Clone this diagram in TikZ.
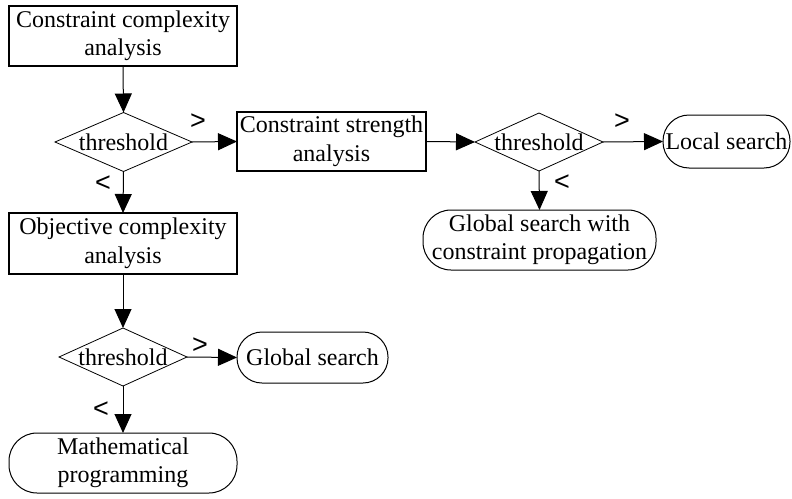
\documentclass[tikz,border=0pt]{standalone}
\usepackage{fontspec}
\setmainfont{Liberation Serif}
\newfontfamily\labfont{Liberation Sans}
\usetikzlibrary{shapes.geometric,arrows.meta}
\tikzset{
  txt/.style={font=\fontsize{24}{28.5}\selectfont, align=center, inner sep=0pt, outer sep=0pt},
  procbox/.style={txt, draw, line width=1.6pt, rectangle, minimum width=228pt, minimum height=60pt},
  decide/.style={txt, draw, line width=0.8pt, diamond, minimum height=59pt},
  term/.style={txt, draw, line width=1pt, rectangle, rounded corners=26pt},
  cmp/.style={font=\labfont\fontsize{27}{27}\selectfont, inner sep=0pt},
  flow/.style={line width=1pt, -{Triangle[length=19pt,width=17pt]}}
}
\begin{document}
\begin{tikzpicture}[x=1pt,y=-1pt]
\useasboundingbox (0,0) rectangle (792,498);
\node[procbox] (cca) at (123,36) {Constraint complexity\\analysis};
\node[decide, minimum width=137pt] (d1) at (123.5,142) {\makebox[0pt]{threshold}};
\node[procbox, minimum width=189pt, minimum height=59pt] (csa) at (331.5,141.5) {Constraint strength\\analysis};
\node[decide, minimum width=128pt, minimum height=58pt] (d2) at (539,142) {\makebox[0pt]{threshold}};
\node[term, minimum width=127pt, minimum height=53pt] (ls) at (726.5,141.5) {Local search};
\node[term, minimum width=233pt, minimum height=60pt, rounded corners=28pt] (gsp) at (539.5,240) {Global search with\\constraint propagation};
\node[procbox, minimum height=61pt] (oca) at (123,243.5) {Objective complexity\\analysis};
\node[decide, minimum width=128pt, minimum height=58pt] (d3) at (123,357) {\makebox[0pt]{threshold}};
\node[term, minimum width=151pt, minimum height=51pt, rounded corners=25pt] (gs) at (312.5,357.5) {Global search};
\node[term, minimum width=228pt, minimum height=60pt, rounded corners=28pt] (mp) at (123,463) {Mathematical\\programming};
\node[cmp] (g1) at (198,122) {>};
\node[cmp] (l1) at (103,184) {<};
\node[cmp] (g2) at (622,122) {>};
\node[cmp] (l2) at (562,183) {<};
\node[cmp] (g3) at (200,346) {>};
\node[cmp] (l3) at (101,410) {<};
\draw[flow] (cca.south) -- (d1.north);
\draw[flow] (d1.east) -- (csa.west);
\draw[flow] (csa.east) -- (d2.west);
\draw[flow] (d2.east) -- (ls.west);
\draw[flow] (d2.south) -- (gsp.north);
\draw[flow] (d1.south) -- (oca.north);
\draw[flow] (oca.south) -- (d3.north);
\draw[flow] (d3.east) -- (gs.west);
\draw[flow] (d3.south) -- (mp.north);
\end{tikzpicture}
\end{document}
